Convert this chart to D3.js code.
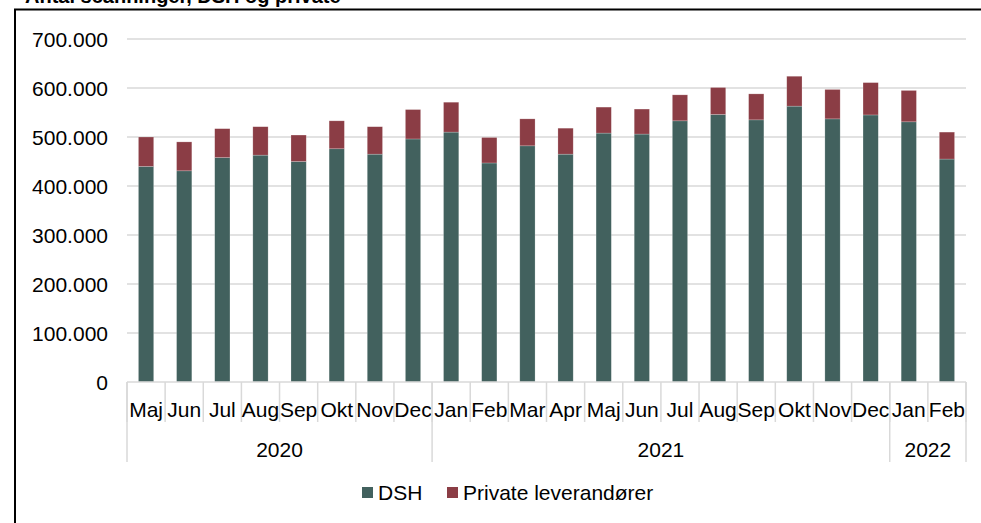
<!DOCTYPE html>
<html>
<head>
<meta charset="utf-8">
<script src="https://cdn.jsdelivr.net/npm/d3@7"></script>
<style>
  body { margin: 0; background: #fff; }
  svg { display: block; font-family: "Liberation Sans", Arial, sans-serif; }
</style>
</head>
<body>
<svg id="chart" width="981" height="523"></svg>
<script>
// months and years (category axis)
const months = ["Maj","Jun","Jul","Aug","Sep","Okt","Nov","Dec",
                "Jan","Feb","Mar","Apr","Maj","Jun","Jul","Aug","Sep","Okt","Nov","Dec",
                "Jan","Feb"]
const years = ["2020", "2021", "2022"]
const yearCounts = [8, 12, 2]

// values
const dsh = [440000, 431000, 458000, 463000, 450000, 476000, 465000, 496000,
             510000, 447000, 482000, 465000, 508000, 506000, 533000, 546000, 535000, 563000, 537000, 545000,
             531000, 455000]
const privat = [60000, 59000, 59000, 58000, 54000, 57000, 56000, 60000,
                61000, 52000, 55000, 53000, 53000, 51000, 53000, 55000, 53000, 61000, 60000, 66000,
                64000, 55000]
const seriesNames = ["DSH", "Private leverandører"]
const yTicks = [0, 100000, 200000, 300000, 400000, 500000, 600000, 700000]

const colors = ["#42615e", "#8b3d45"]
const gridColor = "#d9d9d9"
const fontSize = "21px"

const svg = d3.select("#chart")
const plotLeft = 127, plotRight = 966, plotTop = 39, plotBottom = 382

const locale = d3.formatLocale({decimal: ",", thousands: ".", grouping: [3], currency: ["", ""]})
const fmt = locale.format(",")

// title (cut off at the top edge in the reference too)
svg.append("text")
    .attr("x", 25)
    .attr("y", 3)
    .style("font-size", "20px")
    .style("font-weight", "bold")
    .text("Antal scanninger, DSH og private")

// frame
svg.append("rect")
    .attr("x", 15)
    .attr("y", 9.5)
    .attr("width", 1000)
    .attr("height", 600)
    .style("fill", "none")
    .style("stroke", "#000")
    .style("stroke-width", 2)

const keys = months.map((m, i) => i)
const x = d3.scaleBand()
    .domain(keys)
    .range([plotLeft, plotRight])
    .paddingInner(0.6)
    .paddingOuter(0.3)
const step = x.step()

const y = d3.scaleLinear()
    .domain([0, 700000])
    .range([plotBottom, plotTop])

// gridlines
svg.append("g")
    .selectAll("line")
    .data(yTicks.slice(1))
    .enter()
    .append("line")
    .attr("x1", plotLeft)
    .attr("x2", plotRight)
    .attr("y1", d => y(d))
    .attr("y2", d => y(d))
    .style("stroke", gridColor)
    .style("stroke-width", 1.5)

// y tick labels
svg.append("g")
    .selectAll("text")
    .data(yTicks)
    .enter()
    .append("text")
    .attr("x", 108)
    .attr("y", d => y(d) + 7.5)
    .style("text-anchor", "end")
    .style("font-size", fontSize)
    .style("fill", "#000")
    .text(d => fmt(d))

// stacked bars
const rows = keys.map(i => ({i: i, dsh: dsh[i], privat: privat[i]}))
const stack = d3.stack().keys(["dsh", "privat"])(rows)

svg.append("g")
    .selectAll("g")
    .data(stack)
    .enter()
    .append("g")
    .style("fill", (d, k) => colors[k])
    .selectAll("rect")
    .data(d => d)
    .enter()
    .append("rect")
    .attr("x", d => x(d.data.i))
    .attr("width", x.bandwidth())
    .attr("y", d => y(d[1]))
    .attr("height", d => y(d[0]) - y(d[1]))
    .style("stroke", "#ffffff")
    .style("stroke-opacity", 0.35)
    .style("stroke-width", 0.6)

// category axis: baseline, month separators, year separators
svg.append("line")
    .attr("x1", plotLeft).attr("x2", plotRight)
    .attr("y1", plotBottom).attr("y2", plotBottom)
    .style("stroke", gridColor)
    .style("stroke-width", 1.5)

svg.append("g")
    .selectAll("line")
    .data(d3.range(months.length + 1))
    .enter()
    .append("line")
    .attr("x1", i => plotLeft + i * step)
    .attr("x2", i => plotLeft + i * step)
    .attr("y1", plotBottom)
    .attr("y2", plotBottom + 40)
    .style("stroke", gridColor)
    .style("stroke-width", 1.5)

svg.append("g")
    .selectAll("text")
    .data(months)
    .enter()
    .append("text")
    .attr("x", (d, i) => x(i) + x.bandwidth() / 2)
    .attr("y", 417)
    .style("text-anchor", "middle")
    .style("font-size", fontSize)
    .text(d => d)

const yearStarts = d3.cumsum([0].concat(yearCounts))
svg.append("g")
    .selectAll("line")
    .data(yearStarts)
    .enter()
    .append("line")
    .attr("x1", d => plotLeft + d * step)
    .attr("x2", d => plotLeft + d * step)
    .attr("y1", plotBottom)
    .attr("y2", 462)
    .style("stroke", gridColor)
    .style("stroke-width", 1.5)

svg.append("g")
    .selectAll("text")
    .data(years)
    .enter()
    .append("text")
    .attr("x", (d, i) => plotLeft + (yearStarts[i] + yearCounts[i] / 2) * step)
    .attr("y", 457)
    .style("text-anchor", "middle")
    .style("font-size", fontSize)
    .text(d => d)

// legend
const legendX = [362, 447]
const legend = svg.append("g")
    .selectAll("g")
    .data(seriesNames)
    .enter()
    .append("g")
    .attr("transform", (d, i) => "translate(" + legendX[i] + ",487)")
legend.append("rect")
    .attr("width", 11)
    .attr("height", 11)
    .style("fill", (d, i) => colors[i])
legend.append("text")
    .attr("x", 16)
    .attr("y", 13)
    .style("font-size", fontSize)
    .text(d => d)
</script>
</body>
</html>
